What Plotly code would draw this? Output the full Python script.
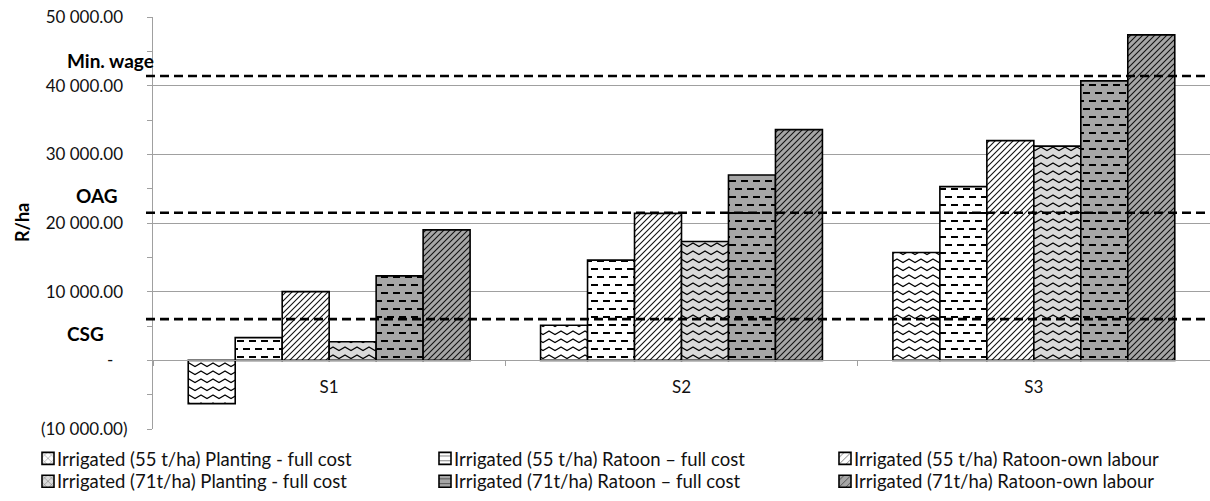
import plotly.graph_objects as go

# Scenario categories
categories = ["S1", "S2", "S3"]

# Net income per hectare (R/ha) for each production system
series_names = [
    "Irrigated (55 t/ha) Planting - full cost",
    "Irrigated (55 t/ha) Ratoon \u2013 full cost",
    "Irrigated (55 t/ha) Ratoon-own labour",
    "Irrigated (71t/ha) Planting - full cost",
    "Irrigated (71t/ha) Ratoon \u2013 full cost",
    "Irrigated (71t/ha) Ratoon-own labour",
]
irr55_planting = [-6300, 5100, 15700]
irr55_ratoon = [3300, 14600, 25300]
irr55_own = [10000, 21400, 32000]
irr71_planting = [2700, 17300, 31200]
irr71_ratoon = [12300, 27000, 40700]
irr71_own = [19000, 33600, 47400]
series_values = [irr55_planting, irr55_ratoon, irr55_own,
                 irr71_planting, irr71_ratoon, irr71_own]

# Reference income levels
threshold_names = ["CSG", "OAG", "Min. wage"]
threshold_values = [6000, 21500, 41400]

# Y axis ticks (accounting style labels)
y_tickvals = [-10000, 0, 10000, 20000, 30000, 40000, 50000]
y_ticktext = ["(10 000.00)", "-\u2007\u00a0", "10 000.00\u00a0", "20 000.00\u00a0",
              "30 000.00\u00a0", "40 000.00\u00a0", "50 000.00\u00a0"]
y_title = "R/ha"

# Fill styles: texture kind and background colour per series
fill_kinds = ["wave", "dash", "diag", "wave", "dash", "diag"]
fill_colors = ["#ffffff", "#ffffff", "#ffffff", "#dadada", "#a6a6a6", "#a6a6a6"]
native_shape = {"wave": "x", "dash": "-", "diag": "/"}

FONT = "Lato"
GRID = "#a0a0a0"
W, H = 1210, 501
ML, MR, MT, MB = 153, 0, 17, 70
plot_w, plot_h = W - ML - MR, H - MT - MB


def px_x(px):
    return (px - ML) / plot_w


def px_y(py):
    return (H - MB - py) / plot_h


# Legend grid: three columns of two rows, one legend box per entry
legend_text_x = [57, 454, 854]
legend_row_y = [461, 484]

fig = go.Figure()
layout_legends = {}
for i, (name, vals, kind, col) in enumerate(zip(series_names, series_values,
                                                fill_kinds, fill_colors)):
    lid = "legend" if i == 0 else "legend%d" % (i + 1)
    fig.add_trace(go.Bar(
        name=name, x=categories, y=vals, meta=kind, legend=lid,
        marker=dict(color=col, line=dict(color="#000000", width=1.6),
                    pattern=dict(shape=native_shape[kind], fgcolor="#000000",
                                 bgcolor=col, size=6, solidity=0.2)),
        hoverinfo="skip",
    ))
    layout_legends[lid] = dict(
        x=px_x(legend_text_x[i % 3] - 40), y=px_y(legend_row_y[i // 3]),
        xanchor="left", yanchor="middle", orientation="v",
        bgcolor="rgba(0,0,0,0)", borderwidth=0,
        font=dict(family=FONT, size=18.5, color="#111111"))

# Dashed reference lines and their labels
label_pos = {"CSG": (85, -14), "OAG": (97, 17), "Min. wage": (110, 16)}
for nm, val in zip(threshold_names, threshold_values):
    fig.add_shape(type="line", xref="paper", yref="y", x0=px_x(146), x1=1.0,
                  y0=val, y1=val, layer="above",
                  line=dict(color="#000000", width=2.6, dash="9px,5px"))
    lx, dy = label_pos[nm]
    fig.add_annotation(x=px_x(lx), y=val, xref="paper", yref="y",
                       text="<b>%s</b>" % nm, showarrow=False, yshift=dy,
                       xanchor="center",
                       font=dict(family=FONT, size=19, color="#000000"))

# Rotated axis title
fig.add_annotation(x=px_x(22), y=0.5, xref="paper", yref="paper",
                   text="<b>%s</b>" % y_title, textangle=-90, showarrow=False,
                   xanchor="center", yanchor="middle",
                   font=dict(family=FONT, size=18, color="#000000"))

y0, y1 = y_tickvals[0], y_tickvals[-1]

fig.update_layout(
    width=W, height=H,
    margin=dict(l=ML, r=MR, t=MT, b=MB),
    paper_bgcolor="#ffffff", plot_bgcolor="#ffffff",
    barmode="group", bargap=0.2, bargroupgap=0,
    font=dict(family=FONT, size=17, color="#111111"),
    showlegend=True,
    xaxis=dict(type="category", anchor="free", position=(0 - y0) / (y1 - y0),
               showline=True, linecolor=GRID, linewidth=1.3, showgrid=False,
               ticks="outside", tickson="boundaries", ticklen=5, tickcolor=GRID,
               ticklabelstandoff=11,
               tickfont=dict(family=FONT, size=17, color="#111111")),
    yaxis=dict(range=[y0, y1], tickmode="array", tickvals=y_tickvals,
               ticktext=y_ticktext, showgrid=True, gridcolor=GRID, gridwidth=1.3,
               zeroline=False, showline=True, linecolor=GRID, linewidth=1.3,
               ticks="outside", ticklen=5, tickcolor=GRID, ticklabelstandoff=16,
               minor=dict(tickmode="linear", tick0=y0, dtick=5000, ticks="outside",
                          ticklen=5, tickcolor=GRID, showgrid=False),
               tickfont=dict(family=FONT, size=17, color="#111111")),
    **layout_legends,
)

# Replace the built-in fills with wave / dash / diagonal textures and
# tuck the legend swatches up against their labels
post_js = r"""
var gd = document.getElementById('{plot_id}');
var NS = 'http://www.w3.org/2000/svg';
function mk(tag, attrs, parent) {
  var e = document.createElementNS(NS, tag);
  for (var k in attrs) e.setAttribute(k, attrs[k]);
  if (parent) parent.appendChild(e);
  return e;
}
var svg = gd.querySelector('svg.main-svg');
var defs = svg.querySelector('defs');
if (!defs) { defs = document.createElementNS(NS, 'defs'); svg.insertBefore(defs, svg.firstChild); }
function makePattern(id, kind, bg) {
  var w = 12, h = 8;
  if (kind === 'dash') { w = 12; h = 16; }
  if (kind === 'diag') { w = 6; h = 6; }
  var p = mk('pattern', {id: id, width: w, height: h, patternUnits: 'userSpaceOnUse'}, defs);
  mk('rect', {x: 0, y: 0, width: w, height: h, fill: bg}, p);
  if (kind === 'wave') {
    mk('path', {d: 'M-1,1.5 L0,2 L6,5.5 L12,2 L13,1.5', fill: 'none', stroke: '#000', 'stroke-width': 1.2}, p);
  } else if (kind === 'dash') {
    mk('rect', {x: 0, y: 3, width: 7, height: 2, fill: '#000'}, p);
    mk('rect', {x: 6, y: 11, width: 7, height: 2, fill: '#000'}, p);
    mk('rect', {x: -6, y: 11, width: 7, height: 2, fill: '#000'}, p);
  } else {
    mk('path', {d: 'M0,6 L6,0 M-1,1 L1,-1 M5,7 L7,5', fill: 'none', stroke: '#111', 'stroke-width': 1.1}, p);
  }
}
gd.data.forEach(function (tr, i) {
  makePattern('tex' + i, tr.meta, tr.marker.color);
});
gd.querySelectorAll('.barlayer .trace.bars').forEach(function (g) {
  var idx = g.__data__[0].trace.index;
  g.querySelectorAll('path').forEach(function (p) { p.style.fill = 'url(#tex' + idx + ')'; });
});
gd.querySelectorAll('g.traces').forEach(function (g) {
  var idx = g.__data__[0].trace.index;
  g.querySelectorAll('path.legendbar').forEach(function (p) { p.style.fill = 'url(#tex' + idx + ')'; });
  var pts = g.querySelector('g.legendpoints');
  if (pts) pts.setAttribute('transform', 'translate(11,0)');
});
"""

fig.write_html("out.html", post_script=post_js)
